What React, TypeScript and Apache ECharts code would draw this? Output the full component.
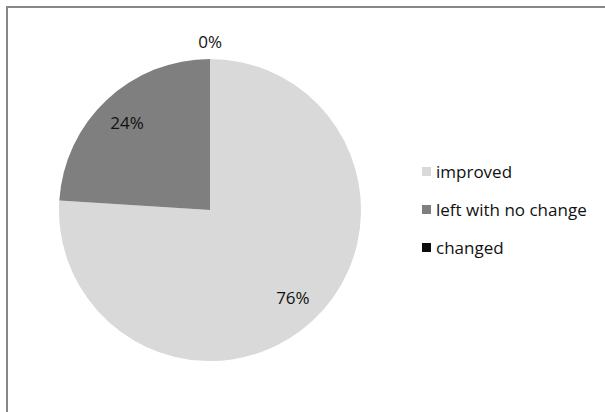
import React, { useEffect, useRef } from "react";
import * as echarts from "echarts";

const categories = ["improved", "left with no change", "changed"];
const values = [76, 24, 0];
const colors = ["#D9D9D9", "#7F7F7F", "#0D0D0D"];
const labelLengths = [-31, -31, 18];
const labelShift = [-16, -16, -12];

const FONT = "'Open Sans', 'Noto Sans', sans-serif";

export default function App() {
  const ref = useRef<HTMLDivElement>(null);
  useEffect(() => {
    if (!ref.current) return;
    const chart = echarts.init(ref.current, undefined, { renderer: "svg" });
    chart.setOption({
      animation: false,
      backgroundColor: "#ffffff",
      graphic: [
        {
          type: "rect",
          shape: { x: 7, y: 7, width: 700, height: 600 },
          style: { fill: "none", stroke: "#878787", lineWidth: 2 },
          silent: true,
        },
      ],
      legend: {
        orient: "vertical",
        left: 417,
        top: 158,
        icon: "rect",
        itemWidth: 9,
        itemHeight: 9,
        itemGap: 21,
        data: categories,
        textStyle: { fontFamily: FONT, fontSize: 17, color: "#111111" },
      },
      series: [
        {
          type: "pie",
          center: [210, 210],
          radius: 151,
          startAngle: 90,
          clockwise: true,
          avoidLabelOverlap: false,
          itemStyle: { borderWidth: 0 },
          label: {
            show: true,
            position: "outside",
            formatter: (p: any) => `${p.value}%`,
            fontFamily: FONT,
            fontSize: 17,
            color: "#111111",
          },
          labelLine: { show: false, length2: 0 },
          emphasis: { disabled: true },
          data: categories.map((name, i) => ({
            name,
            value: values[i],
            itemStyle: { color: colors[i] },
            label: { distanceToLabelLine: labelShift[i] },
            labelLine: { show: false, length: labelLengths[i], length2: 0 },
          })),
        },
      ],
    });
    return () => chart.dispose();
  }, []);
  return (
    <div
      ref={ref}
      style={{ position: "fixed", left: 0, top: 0, width: 605, height: 412 }}
    />
  );
}
